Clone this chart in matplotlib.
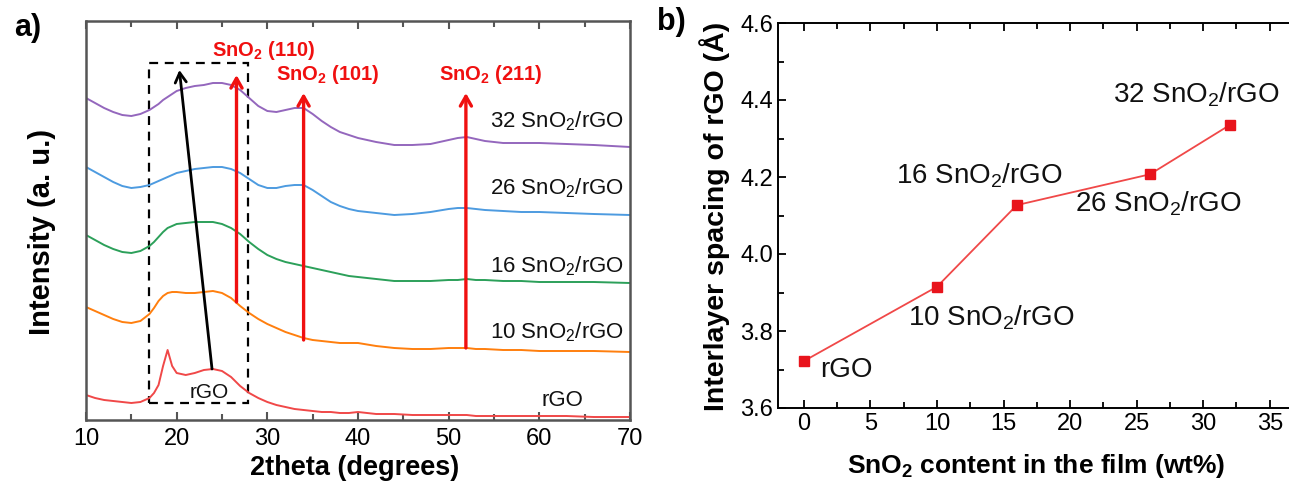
import matplotlib
matplotlib.use("Agg")
import matplotlib.pyplot as plt
from matplotlib.patches import Rectangle
from matplotlib.ticker import MultipleLocator

NARROW = ["Liberation Sans Narrow", "Liberation Sans", "DejaVu Sans"]
SANS = ["Liberation Sans", "DejaVu Sans"]
plt.rcParams["font.family"] = NARROW

# ---------------- (a) XRD patterns ----------------
two_theta = [10, 11, 12, 13, 14, 15, 16, 17, 17.5, 18, 18.5, 19, 19.5, 20, 21, 22,
             23, 24, 25, 26, 27, 28, 29, 30, 31, 32, 33, 34, 35, 36, 37, 38, 39, 40,
             42, 44, 46, 48, 50, 51, 52, 53, 54, 56, 58, 60, 63, 66, 70]

int_32 = [322, 317, 312, 308, 305, 304, 306, 310, 313, 316, 320, 323, 326,
          329, 332, 334, 335, 337, 337, 335, 330, 322, 314, 309, 308, 310, 312,
          312, 306, 299, 293, 288, 285, 282, 278, 275, 275, 276, 280, 282, 283,
          281, 279, 277, 277, 277, 276, 275, 273]
int_26 = [253, 248, 243, 238, 234, 232, 233, 235, 237, 239, 241, 243, 245,
          247, 249, 251, 252, 253, 253, 251, 247, 241, 235, 232, 232, 234, 235,
          235, 230, 224, 218, 214, 211, 209, 207, 205, 206, 208, 211, 212, 212,
          211, 210, 209, 208, 208, 207, 206, 205]
int_16 = [185, 180, 175, 171, 168, 167, 169, 174, 178, 183, 188, 192, 194,
          196, 197, 198, 198, 198, 196, 192, 186, 178, 171, 165, 161, 158, 156,
          154, 152, 150, 148, 146, 144, 143, 141, 139, 139, 139, 140, 140, 141,
          140, 140, 139, 139, 138, 138, 138, 137]
int_10 = [113, 109, 105, 101, 98, 97, 99, 106, 112, 119, 124, 127, 128,
          128, 127, 127, 128, 129, 127, 122, 114, 107, 101, 96, 92, 88, 85,
          82, 80, 79, 78, 77, 77, 77, 74, 72, 71, 71, 72, 72, 72, 71, 71,
          70, 70, 69, 69, 69, 68]
int_rgo = [25, 22, 20, 19, 18, 17, 18, 22, 27, 35, 54, 70, 54,
           47, 45, 47, 50, 51, 49, 43, 34, 27, 22, 18, 15, 13, 11, 10, 9, 8,
           8, 7, 7, 8, 6, 6, 5, 5, 5, 5, 5, 4, 4, 4, 4, 4, 4, 3, 3]

series_a = [
    (int_32, "#9467bd", r"32 SnO$_\mathregular{2}$/rGO", 299),
    (int_26, "#4d9be0", r"26 SnO$_\mathregular{2}$/rGO", 232),
    (int_16, "#2ca05a", r"16 SnO$_\mathregular{2}$/rGO", 154),
    (int_10, "#ff7f0e", r"10 SnO$_\mathregular{2}$/rGO", 88),
    (int_rgo, "#f04848", "rGO", 20),
]

# SnO2 reflections: position, arrow base, arrow tip, label
peak_pos = [26.6, 34.0, 51.9]
peak_base = [118, 80, 72]
peak_tip = [345, 327, 327]
peak_labels = [r"SnO$_\mathregular{2}$ (110)", r"SnO$_\mathregular{2}$ (101)",
               r"SnO$_\mathregular{2}$ (211)"]
peak_label_xy = [(29.6, 370), (36.7, 345), (54.6, 345)]

# ---------------- (b) interlayer spacing ----------------
sno2_wt = [0, 10, 16, 26, 32]
d_spacing = [3.722, 3.915, 4.127, 4.207, 4.335]
sample_names = ["rGO", r"10 SnO$_\mathregular{2}$/rGO", r"16 SnO$_\mathregular{2}$/rGO",
                r"26 SnO$_\mathregular{2}$/rGO", r"32 SnO$_\mathregular{2}$/rGO"]
name_xy = [(3.2, 3.699), (14.05, 3.834), (13.2, 4.203), (26.6, 4.132), (29.5, 4.413)]

W, H = 1289, 491
fig = plt.figure(figsize=(W / 100, H / 100), dpi=100)

def box(l, t, r, b):
    return [l / W, 1 - b / H, (r - l) / W, (b - t) / H]

# ---- panel a ----
ax = fig.add_axes(box(86, 21, 630, 420))
for vals, col, lab, ly in series_a:
    ax.plot(two_theta, vals, color=col, lw=1.4)
    if lab == "rGO":
        ax.text(62.5, ly, lab, ha="center", va="center", fontsize=16, color="#111111")
    else:
        ax.text(69.3, ly, lab, ha="right", va="center", fontsize=16, color="#111111")

for x, b, t in zip(peak_pos, peak_base, peak_tip):
    ax.annotate("", xy=(x, t), xytext=(x, b),
                arrowprops=dict(arrowstyle="->,head_length=0.7,head_width=0.4",
                                color="#f01010", lw=2.4, shrinkA=0, shrinkB=0))
for lab, (x, y) in zip(peak_labels, peak_label_xy):
    ax.text(x, y, lab, ha="center", va="center", fontsize=14.5, color="#f01010",
            fontweight="bold", family=SANS)

ax.annotate("", xy=(20.3, 350), xytext=(23.9, 51),
            arrowprops=dict(arrowstyle="->,head_length=0.7,head_width=0.4",
                            color="black", lw=2.0, shrinkA=0, shrinkB=0))
ax.add_patch(Rectangle((17.0, 17), 10.9, 340, fill=False, ls=(0, (4, 3)),
                       lw=1.6, ec="black"))
ax.text(23.6, 28, "rGO", ha="center", va="center", fontsize=15, color="#111111")

ax.set_xlim(10, 70)
ax.set_ylim(0, 399)
ax.set_yticks([])
ax.xaxis.set_major_locator(MultipleLocator(10))
ax.xaxis.set_minor_locator(MultipleLocator(5))
ax.tick_params(axis="x", which="both", direction="in", top=True, labelsize=17,
               color="#555555", width=1.5, pad=6)
ax.tick_params(axis="x", which="major", length=6)
ax.tick_params(axis="x", which="minor", length=4)
for s in ax.spines.values():
    s.set_color("#555555")
    s.set_linewidth(1.8)

fig.text(42 / W, 1 - 232 / H, "Intensity (a. u.)", rotation=90, ha="center",
         va="center", fontsize=21, fontweight="bold", family=SANS)
fig.text(355 / W, 1 - 468 / H, "2theta (degrees)", ha="center", va="center",
         fontsize=19.5, fontweight="bold", family=SANS)
fig.text(28 / W, 1 - 28 / H, "a)", ha="center", va="center", fontsize=22,
         fontweight="bold", family=SANS)

# ---- panel b ----
bx = fig.add_axes(box(778, 23, 1289, 408))
bx.plot(sno2_wt, d_spacing, color="#f04848", lw=1.3, marker="s", ms=7.5,
        mfc="#e8141c", mec="#e8141c")
for lab, (x, y) in zip(sample_names, name_xy):
    bx.text(x, y, lab, ha="center", va="center", fontsize=20, color="#111111",
            family=SANS)
bx.set_xlim(-1.95, 36.45)
bx.set_ylim(3.6, 4.6)
bx.xaxis.set_major_locator(MultipleLocator(5))
bx.xaxis.set_minor_locator(MultipleLocator(2.5))
bx.yaxis.set_major_locator(MultipleLocator(0.2))
bx.yaxis.set_minor_locator(MultipleLocator(0.1))
bx.yaxis.set_major_formatter(plt.FuncFormatter(lambda v, p: f"{v:.1f}"))
bx.tick_params(which="both", direction="in", top=True, labelsize=17, width=1.3)
bx.tick_params(which="major", length=6)
bx.tick_params(which="minor", length=4)
bx.spines["right"].set_visible(False)
for k in ("left", "bottom", "top"):
    bx.spines[k].set_linewidth(1.4)

fig.text(715 / W, 1 - 216 / H, "Interlayer spacing of rGO (\u00c5)", rotation=90,
         ha="center", va="center", fontsize=20.5, fontweight="bold", family=SANS)
fig.text(1036 / W, 1 - 466 / H, r"SnO$_\mathregular{2}$ content in the film (wt%)",
         ha="center", va="center", fontsize=19, fontweight="bold", family=SANS)
fig.text(671 / W, 1 - 22 / H, "b)", ha="center", va="center", fontsize=22,
         fontweight="bold", family=SANS)

fig.savefig("out.png", dpi=100)
